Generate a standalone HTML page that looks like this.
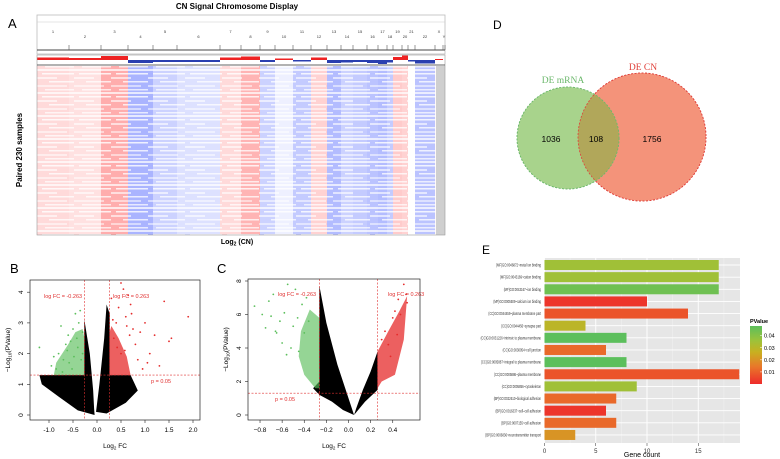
<!DOCTYPE html>
<html><head><meta charset="utf-8"><style>
html,body{margin:0;padding:0;background:#fff;}
svg{display:block;font-family:"Liberation Sans",Arial,sans-serif;}
</style></head><body>
<svg id="fig" width="780" height="459" viewBox="0 0 780 459" xmlns="http://www.w3.org/2000/svg">
<defs>
<pattern id="rows" width="37" height="23" patternUnits="userSpaceOnUse">
<rect x="0" y="0" width="37" height="2" fill="#fff" opacity="0.7"/>
<rect x="5" y="4" width="32" height="1.5" fill="#fff" opacity="0.8"/>
<rect x="0" y="8" width="20" height="2" fill="#fff" opacity="0.6"/>
<rect x="12" y="12" width="25" height="1.5" fill="#fff" opacity="0.75"/>
<rect x="0" y="16" width="30" height="2" fill="#fff" opacity="0.5"/>
<rect x="8" y="20" width="29" height="1.5" fill="#fff" opacity="0.7"/>
</pattern>
<linearGradient id="pgrad" x1="0" y1="1" x2="0" y2="0">
<stop offset="0" stop-color="#ee2b2b"/><stop offset="0.3" stop-color="#e8782a"/>
<stop offset="0.55" stop-color="#c8b020"/><stop offset="0.75" stop-color="#9cc23a"/>
<stop offset="1" stop-color="#5cbf5c"/></linearGradient>
</defs>
<g id="panelA"></g>
<g id="panelB"></g>
<g id="panelC"></g>
<g id="panelD"></g>
<g id="panelE"></g>
</svg>
<script>
// ---------- Panel A data ----------
const chromNames=["1","2","3","4","5","6","7","8","9","10","11","12","13","14","15","16","17","18","19","20","21","22","X","Y"];
const chromEnds=[69,101,128,153,177,220,241,260,275,293,311,327,341,353,367,378,387,393,402,408,415,435,443,445];
const chromTint=[0.25,0.2,0.55,-0.5,-0.3,-0.2,0.25,0.5,-0.3,-0.1,-0.35,0.3,-0.45,-0.3,-0.35,-0.4,-0.45,-0.35,0.35,0.3,0,-0.4,0.05,0];
const chromProfile=[0.5,0.4,0.8,-0.6,-0.4,-0.4,0.5,0.7,-0.4,0.3,-0.3,0.5,-0.6,-0.5,-0.4,-0.6,-0.8,-0.5,0.6,0.9,-0.3,-0.7,0.2,0];
// ---------- Panel B data ----------
const bGreenX=[-0.95,-0.85,-0.8,-0.75,-0.7,-0.65,-0.6,-0.55,-0.5,-0.45,-0.4,-0.35,-0.3,-1.2,-0.72,-0.58,-0.48,-0.42,-0.38,-0.9,-0.62,-0.52,-0.33,-0.3];
const bGreenY=[1.6,1.5,2.0,2.9,1.8,2.3,2.6,2.4,2.8,3.3,2.2,3.4,2.7,2.2,1.4,1.7,1.9,2.5,3.0,1.9,2.1,1.5,1.8,2.0];
const bRedX=[0.3,0.35,0.4,0.45,0.5,0.55,0.6,0.65,0.7,0.75,0.8,0.9,1.0,1.1,1.2,1.3,1.4,1.5,1.55,1.9,0.5,0.62,0.72,0.85,0.95,0.42,0.33,0.58,1.05,0.68];
const bRedY=[3.8,2.5,3.0,3.5,4.3,4.1,3.2,3.9,3.6,2.8,2.3,2.7,3.0,2.0,2.6,1.6,3.7,2.4,2.5,3.2,2.0,2.9,3.3,1.8,1.5,2.2,3.1,2.1,1.7,2.6];
const bDenseGreen=[[-0.263,1.3],[-0.9,1.3],[-0.85,1.7],[-0.6,2.3],[-0.45,2.7],[-0.3,2.8],[-0.263,2.5]];
const bDenseRed=[[0.263,1.3],[0.7,1.3],[0.62,1.9],[0.45,2.5],[0.3,2.9],[0.263,2.7]];
const bBlackL=[[-0.05,0],[-0.4,0.15],[-0.8,0.6],[-1.15,1.0],[-1.2,1.3],[-0.263,1.3],[-0.263,3.1],[-0.15,2.0],[-0.08,0.8],[-0.06,0.2]];
const bBlackR=[[-0.02,0.1],[0.05,1.0],[0.15,2.5],[0.2,3.6],[0.263,3.3],[0.263,1.3],[0.7,1.3],[0.85,0.8],[0.6,0.4],[0.2,0.05]];
const bXTicks=[-1.0,-0.5,0.0,0.5,1.0,1.5,2.0];
const bYTicks=[0,1,2,3,4];
// ---------- Panel C data ----------
const cGreenX=[-0.85,-0.78,-0.75,-0.72,-0.7,-0.68,-0.65,-0.62,-0.6,-0.58,-0.55,-0.52,-0.5,-0.48,-0.45,-0.42,-0.4,-0.38,-0.36,-0.66,-0.56,-0.46];
const cGreenY=[6.5,6.0,5.2,6.8,5.9,7.2,4.9,5.6,4.3,6.1,7.8,4.0,5.3,7.5,3.8,6.6,4.9,7.0,5.6,5.0,3.6,5.8];
const cRedX=[0.3,0.33,0.36,0.4,0.42,0.45,0.47,0.5,0.52,0.53,0.38,0.44];
const cRedY=[4.5,5.0,4.2,5.8,6.2,6.9,6.0,7.8,7.2,6.7,3.5,4.8];
const cDenseGreen=[[-0.263,1.6],[-0.3,1.6],[-0.4,2.4],[-0.45,3.5],[-0.43,5.0],[-0.35,6.3],[-0.263,5.8]];
const cDenseRed=[[0.263,1.6],[0.3,2.0],[0.42,2.4],[0.5,4.5],[0.53,7.1],[0.46,6.2],[0.36,5.0],[0.263,3.8]];
const cBlackL=[[-0.263,7.7],[-0.2,5.5],[-0.1,3.0],[0.0,1.0],[0.05,0],[-0.05,0.3],[-0.15,0.8],[-0.263,1.2],[-0.32,1.6],[-0.263,2.0]];
const cBlackR=[[0.05,0],[0.15,0.8],[0.263,1.5],[0.263,3.8],[0.2,2.6],[0.13,1.5],[0.07,0.4]];
const cXTicks=[-0.8,-0.6,-0.4,-0.2,0.0,0.2,0.4];
const cYTicks=[0,2,4,6,8];
// ---------- Panel E data ----------
const goTerms=["(MF)GO:0046872~metal ion binding","(MF)GO:0043169~cation binding","(MF)GO:0043167~ion binding","(MF)GO:0005509~calcium ion binding","(CC)GO:0044459~plasma membrane part","(CC)GO:0044456~synapse part","(CC)GO:0031226~intrinsic to plasma membrane","(CC)GO:0030054~cell junction","(CC)GO:0005887~integral to plasma membrane","(CC)GO:0005886~plasma membrane","(CC)GO:0005856~cytoskeleton","(BP)GO:0022610~biological adhesion","(BP)GO:0016337~cell\u2013cell adhesion","(BP)GO:0007155~cell adhesion","(BP)GO:0006836~neurotransmitter transport"];
const goCounts=[17,17,17,10,14,4,8,6,8,19,9,7,6,7,3];
const goPvalues=[0.034,0.034,0.042,0.002,0.008,0.028,0.045,0.012,0.045,0.008,0.034,0.012,0.002,0.012,0.02];
const eXTicks=[0,5,10,15];
const legendTicks=[0.01,0.02,0.03,0.04];

const NS="http://www.w3.org/2000/svg";
function mk(parent,tag,attrs,text){const e=document.createElementNS(NS,tag);for(const k in attrs)e.setAttribute(k,attrs[k]);if(text!==undefined)e.textContent=text;parent.appendChild(e);return e;}
function tint(v){if(v>=0){const a=v;return `rgb(${255},${Math.round(255-150*a)},${Math.round(255-150*a)})`;}const a=-v;return `rgb(${Math.round(255-170*a)},${Math.round(255-150*a)},255)`;}

// ---------- Panel A ----------
(function(){
const g=document.getElementById('panelA');
let t=mk(g,'text',{x:237,y:9,'text-anchor':'middle','font-size':8,'font-weight':'bold'},'CN Signal  Chromosome Display');

t=mk(g,'text',{x:8,y:28,'font-size':13},'A');

const hdr=mk(g,'rect',{x:37,y:15,width:408,height:39,fill:'#fff',stroke:'#bbb','stroke-width':0.8});

mk(g,'line',{x1:37,y1:22,x2:445,y2:22,stroke:'#ccc','stroke-width':0.6});
mk(g,'line',{x1:37,y1:50,x2:445,y2:50,stroke:'#444','stroke-width':1});
let start=37;
chromNames.forEach((n,i)=>{
 const end=chromEnds[i];const mid=(start+end)/2;
 const lb=mk(g,'text',{x:mid,y:i%2?38:33,'text-anchor':'middle','font-size':4,fill:'#333'},n);
 
 mk(g,'line',{x1:end,y1:45,x2:end,y2:50,stroke:'#555','stroke-width':0.6});
 const pv=chromProfile[i];
 const pr=mk(g,'rect',{x:start,y:pv>=0?60-pv*5:60,width:end-start,height:Math.abs(pv)*5,fill:pv>=0?'#e22':'#2a3fb0'});
 
 const col=mk(g,'rect',{x:start,y:66,width:end-start,height:169,fill:n==='Y'?'#ccc':tint(chromTint[i])});
 
 start=end;
});
mk(g,'rect',{x:436,y:66,width:9,height:169,fill:'#cfcfcf'});
const ov=mk(g,'rect',{x:37,y:66,width:399,height:169,fill:'url(#rows)'});

mk(g,'rect',{x:37,y:55,width:408,height:180,fill:'none',stroke:'#999','stroke-width':0.6});
mk(g,'line',{x1:37,y1:65,x2:445,y2:65,stroke:'#333','stroke-width':0.8});
t=mk(g,'text',{x:22,y:150,'text-anchor':'middle','font-size':8,'font-weight':'bold',transform:'rotate(-90 22 150)'},'Paired 230 samples');

t=mk(g,'text',{x:237,y:244,'text-anchor':'middle','font-size':7,'font-weight':'bold'});
t.innerHTML='Log<tspan font-size="5" dy="1.5">2</tspan><tspan dy="-1.5"> (CN)</tspan>';

})();

// ---------- Volcano helper ----------
function volcano(gid,letter,lx,box,sx,sy,xt,yt,dense,black,gx,gy,rx,ry,fcLabels,pLabel,fmt){
const g=document.getElementById(gid);
let t=mk(g,'text',{x:lx,y:273,'font-size':13},letter);

const poly=(pts,fill,name,op)=>{const p=mk(g,'polygon',{points:pts.map(q=>sx(q[0])+','+sy(q[1])).join(' '),fill:fill,opacity:op||1});};
poly(black[0],'#000','black-points-left');poly(black[1],'#000','black-points-right');
poly(dense[0],'#5cbf5c','green-dense-points',0.65);poly(dense[1],'#e52b2b','red-dense-points',0.75);
gx.forEach((v,i)=>{const c=mk(g,'circle',{cx:sx(v),cy:sy(gy[i]),r:0.9,fill:'#5cbf5c'});});
rx.forEach((v,i)=>{const c=mk(g,'circle',{cx:sx(v),cy:sy(ry[i]),r:0.9,fill:'#e52b2b'});});
const dl=(x1,y1,x2,y2,name)=>{const l=mk(g,'line',{x1,y1,x2,y2,stroke:'#e03030','stroke-width':0.6,'stroke-dasharray':'2,1.5'});};
dl(sx(-0.263),box.y,sx(-0.263),box.y+box.h,'fc-threshold-neg');dl(sx(0.263),box.y,sx(0.263),box.y+box.h,'fc-threshold-pos');
dl(box.x,sy(1.301),box.x+box.w,sy(1.301),'p-threshold');
const rt=(x,y,s,n)=>{const e=mk(g,'text',{x,y,'font-size':5.5,fill:'#e03030'},s);};
rt(fcLabels[0],fcLabels[2],'log FC = -0.263','fc-neg-annotation');rt(fcLabels[1],fcLabels[2],'log FC = 0.263','fc-pos-annotation');rt(pLabel[0],pLabel[1],'p = 0.05','p-annotation');
const fr=mk(g,'rect',{x:box.x,y:box.y,width:box.w,height:box.h,fill:'none',stroke:'#222','stroke-width':0.7});

xt.forEach(v=>{const x=sx(v);mk(g,'line',{x1:x,y1:box.y+box.h,x2:x,y2:box.y+box.h+3,stroke:'#222','stroke-width':0.6});const e=mk(g,'text',{x:x,y:box.y+box.h+12,'text-anchor':'middle','font-size':6.5},fmt(v));});
yt.forEach(v=>{const y=sy(v);mk(g,'line',{x1:box.x,y1:y,x2:box.x-3,y2:y,stroke:'#222','stroke-width':0.6});const e=mk(g,'text',{x:box.x-7,y:y,'text-anchor':'middle','font-size':6.5,transform:`rotate(-90 ${box.x-7} ${y})`},String(v));});
t=mk(g,'text',{x:box.x+box.w/2,y:box.y+box.h+28,'text-anchor':'middle','font-size':6.5});
t.innerHTML='Log<tspan font-size="4.5" dy="1.5">2</tspan><tspan dy="-1.5"> FC</tspan>';

const yx=box.x-20,yy=box.y+box.h/2;
t=mk(g,'text',{x:yx,y:yy,'text-anchor':'middle','font-size':6.5,transform:`rotate(-90 ${yx} ${yy})`});
t.innerHTML='\u2212Log<tspan font-size="4.5" dy="1.5">10</tspan><tspan dy="-1.5">(PValue)</tspan>';

}
const bx=v=>97+48*v, by=v=>415-30.7*v;
volcano('panelB','B',10,{x:30,y:280,w:170,h:140},bx,by,bXTicks,bYTicks,[bDenseGreen,bDenseRed],[bBlackL,bBlackR],bGreenX,bGreenY,bRedX,bRedY,[44,113,298],[151,383],v=>v.toFixed(1));
const cx=v=>348.5+110.6*v, cy=v=>415-16.75*v;
volcano('panelC','C',217,{x:248,y:279,w:172,h:141},cx,cy,cXTicks,cYTicks,[cDenseGreen,cDenseRed],[cBlackL,cBlackR],cGreenX,cGreenY,cRedX,cRedY,[278,388,296],[275,401],v=>v===0?'0.0':(v<0?'\u2212':'')+Math.abs(v).toFixed(1));

// ---------- Panel D ----------
(function(){
const g=document.getElementById('panelD');
let t=mk(g,'text',{x:493,y:29,'font-size':12},'D');
let c=mk(g,'circle',{cx:642,cy:137,r:64,fill:'#f4937a',stroke:'#e0403a','stroke-width':0.8,'stroke-dasharray':'2,1.5'});
c=mk(g,'circle',{cx:568,cy:138,r:51,fill:'#a8d38c',stroke:'#6cb86c','stroke-width':0.8,'stroke-dasharray':'2,1.5'});
mk(g,'clipPath',{id:'clipR'});
const cc=document.createElementNS(NS,'circle');document.getElementById('clipR').appendChild(cc);
cc.setAttribute('cx',642);cc.setAttribute('cy',137);cc.setAttribute('r',64);
c=mk(g,'circle',{cx:568,cy:138,r:51,fill:'#b1a75a','clip-path':'url(#clipR)'});
mk(g,'circle',{cx:642,cy:137,r:64,fill:'none',stroke:'#e0403a','stroke-width':0.8,'stroke-dasharray':'2,1.5'});
mk(g,'circle',{cx:568,cy:138,r:51,fill:'none',stroke:'#6cb86c','stroke-width':0.8,'stroke-dasharray':'2,1.5'});
t=mk(g,'text',{x:563,y:83,'text-anchor':'middle','font-size':9.5,fill:'#6cb86c','font-family':'Liberation Serif,serif'},'DE mRNA');
t=mk(g,'text',{x:643,y:70,'text-anchor':'middle','font-size':9.5,fill:'#e0403a','font-family':'Liberation Serif,serif'},'DE CN');
[['1036',551],['108',596],['1756',652]].forEach(([s,x])=>{const e=mk(g,'text',{x:x,y:142,'text-anchor':'middle','font-size':8.5},s);});
})();

// ---------- Panel E ----------
(function(){
const g=document.getElementById('panelE');
let t=mk(g,'text',{x:482,y:254,'font-size':12},'E');
const ex=v=>544.5+10.25*v; const top=258,step=12.14;
const bg=mk(g,'rect',{x:544,y:top,width:196,height:185,fill:'#e6e6e6'});
[2.5,7.5,12.5,17.5].forEach(v=>mk(g,'line',{x1:ex(v),y1:top,x2:ex(v),y2:top+185,stroke:'#f2f2f2','stroke-width':0.5}));
eXTicks.forEach(v=>mk(g,'line',{x1:ex(v),y1:top,x2:ex(v),y2:top+185,stroke:'#fff','stroke-width':0.9}));
function pcol(p){const stops=[[0,[238,43,43]],[0.015,[232,120,42]],[0.025,[200,176,32]],[0.035,[156,194,58]],[0.045,[92,191,92]]];for(let i=1;i<stops.length;i++){if(p<=stops[i][0]){const a=stops[i-1],b=stops[i],f=(p-a[0])/(b[0]-a[0]);return 'rgb('+a[1].map((c,k)=>Math.round(c+(b[1][k]-c)*f)).join(',')+')';}}return 'rgb(92,191,92)';}
goTerms.forEach((term,i)=>{
 const yc=top+7+i*step;
 mk(g,'line',{x1:544,y1:yc,x2:740,y2:yc,stroke:'#fff','stroke-width':0.9});
 const r=mk(g,'rect',{x:ex(0),y:yc-5,width:Math.min(ex(goCounts[i]),740)-ex(0),height:10,fill:pcol(goPvalues[i])});
 
 const l=mk(g,'text',{x:541,y:yc+1.6,'text-anchor':'end','font-size':4.4,fill:'#333'},term);
 
 const w=l.getComputedTextLength();
 if(w>0){l.setAttribute('textLength',(w*0.64).toFixed(1));l.setAttribute('lengthAdjust','spacingAndGlyphs');}
});
eXTicks.forEach(v=>{mk(g,'line',{x1:ex(v),y1:top+185,x2:ex(v),y2:top+188,stroke:'#333','stroke-width':0.5});const e=mk(g,'text',{x:ex(v),y:top+195,'text-anchor':'middle','font-size':6,fill:'#333'},String(v));});
t=mk(g,'text',{x:642,y:457,'text-anchor':'middle','font-size':7},'Gene count');
t=mk(g,'text',{x:750,y:323,'font-size':5.5,'font-weight':'bold'},'PValue');
const cb=mk(g,'rect',{x:750,y:326,width:12,height:58,fill:'url(#pgrad)'});
const ly=p=>384-p/0.048*58;
legendTicks.forEach(p=>{mk(g,'line',{x1:760,y1:ly(p),x2:762,y2:ly(p),stroke:'#fff','stroke-width':0.5});const e=mk(g,'text',{x:764,y:ly(p)+2,'font-size':5.5},p.toFixed(2));});
})();
</script>
</body></html>
